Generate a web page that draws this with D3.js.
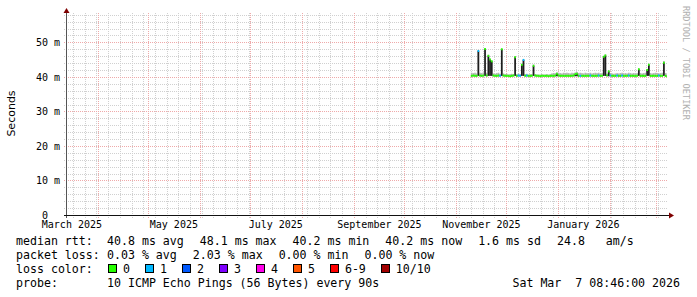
<!DOCTYPE html>
<html>
<head>
<meta charset="utf-8">
<script src="https://cdnjs.cloudflare.com/ajax/libs/d3/7.8.5/d3.min.js"></script>
<style>
    html, body { margin: 0; padding: 0; background: #fff; }
    svg { display: block; }
    .mono { font-family: 'DejaVu Sans Mono', monospace; }
    .mono text { white-space: pre; }
</style>
</head>
<body>
<div class="js-graph"></div>
<script>
'use strict';

//time span of the graph (last 359 days)
var graphEnd = new Date(2026, 2, 7, 8, 46, 0);
var graphStart = d3.timeDay.offset(graphEnd, -359);

//one sample per day, starting at the first day with data
var firstSample = new Date(2025, 10, 10);

//median rtt in ms
var rttMedian = [
    40.3, 40.4, 40.3, 40.3, 47.5, 40.4, 40.3, 40.4, 48.1, 40.4,
    46.1, 45.0, 44.5, 40.4, 40.3, 40.3, 40.4, 40.3, 48.0, 40.4,
    40.3, 40.3, 40.3, 40.2, 40.3, 40.4, 45.7, 40.3, 40.4, 40.3,
    43.5, 44.9, 40.3, 40.4, 40.3, 40.3, 40.3, 43.2, 40.4, 40.3,
    40.3, 40.2, 40.3, 40.3, 40.3, 40.3, 40.2, 40.3, 40.3, 40.3,
    40.4, 40.9, 40.4, 40.3, 40.3, 40.3, 40.3, 40.3, 40.3, 40.3,
    40.3, 40.4, 40.8, 40.9, 40.3, 40.3, 40.3, 40.3, 40.3, 40.3,
    40.3, 40.4, 40.3, 40.3, 40.3, 40.3, 40.4, 40.3, 40.3, 45.8,
    46.2, 40.5, 41.6, 40.4, 40.3, 40.3, 40.3, 40.4, 40.3, 40.3,
    40.4, 40.3, 40.3, 40.3, 40.4, 40.3, 40.3, 40.3, 40.3, 40.3,
    42.2, 40.3, 40.3, 40.3, 40.3, 42.0, 43.5, 40.3, 40.3, 40.3,
    40.3, 40.3, 40.4, 40.3, 40.3, 44.1, 40.3, 40.2
];

//lowest ping of each sample in ms
var rttMin = [
    40.2, 40.2, 40.2, 40.2, 40.3, 40.2, 40.2, 40.2, 40.3, 40.2,
    40.3, 40.3, 40.3, 40.2, 40.2, 40.2, 40.2, 40.2, 40.3, 40.2,
    40.2, 40.2, 40.2, 40.1, 40.2, 40.2, 40.3, 40.2, 40.2, 40.2,
    40.3, 40.3, 40.2, 40.2, 40.2, 40.2, 40.2, 40.3, 40.2, 40.2,
    40.2, 40.1, 40.2, 40.2, 40.2, 40.2, 40.1, 40.2, 40.2, 40.2,
    40.2, 40.2, 40.2, 40.2, 40.2, 40.2, 40.2, 40.2, 40.2, 40.2,
    40.2, 40.2, 40.2, 40.2, 40.2, 40.2, 40.2, 40.2, 40.2, 40.2,
    40.2, 40.2, 40.2, 40.2, 40.2, 40.2, 40.2, 40.2, 40.2, 40.3,
    40.3, 40.2, 40.2, 40.2, 40.2, 40.2, 40.2, 40.2, 40.2, 40.2,
    40.2, 40.2, 40.2, 40.2, 40.2, 40.2, 40.2, 40.2, 40.2, 40.2,
    40.3, 40.2, 40.2, 40.2, 40.2, 40.3, 40.3, 40.2, 40.2, 40.2,
    40.2, 40.2, 40.2, 40.2, 40.2, 40.3, 40.2, 40.1
];

//highest ping of each sample in ms
var rttMax = [
    41.2, 41.1, 41.2, 41.0, 47.8, 41.2, 41.1, 41.3, 48.3, 41.2,
    46.4, 45.3, 44.8, 41.0, 40.9, 41.1, 41.2, 40.9, 48.2, 41.0,
    40.8, 40.9, 40.7, 40.8, 40.9, 40.8, 46.0, 40.8, 41.0, 40.8,
    43.8, 45.2, 40.8, 40.9, 40.7, 40.8, 40.8, 43.6, 40.8, 40.7,
    40.7, 40.7, 40.8, 40.7, 40.7, 40.8, 40.7, 40.8, 41.0, 41.1,
    41.1, 41.3, 41.2, 41.1, 41.0, 41.2, 41.1, 41.2, 41.1, 41.0,
    41.2, 41.1, 41.3, 41.4, 41.1, 41.2, 41.1, 41.0, 41.2, 41.1,
    41.1, 41.2, 41.0, 41.1, 41.2, 41.1, 41.2, 41.0, 41.1, 46.1,
    46.5, 41.0, 41.9, 41.1, 41.0, 40.9, 41.0, 41.1, 41.0, 41.1,
    41.2, 41.0, 41.1, 41.0, 41.2, 41.1, 41.0, 41.1, 41.0, 41.1,
    42.5, 41.1, 41.0, 41.1, 41.2, 42.3, 43.8, 41.1, 41.0, 41.1,
    41.2, 41.1, 41.0, 41.1, 41.2, 44.6, 41.1, 41.0
];

//lost pings out of 10
var lossCount = [
    0, 0, 0, 0, 1, 0, 0, 0, 0, 0,
    0, 0, 0, 0, 0, 0, 0, 1, 0, 0,
    0, 0, 0, 0, 0, 0, 0, 0, 1, 1,
    0, 1, 0, 1, 0, 0, 0, 0, 0, 0,
    0, 0, 0, 0, 0, 0, 0, 0, 0, 0,
    0, 0, 0, 0, 0, 0, 0, 0, 0, 0,
    0, 0, 0, 0, 0, 1, 0, 0, 0, 0,
    0, 1, 0, 0, 0, 0, 1, 0, 0, 0,
    0, 0, 0, 1, 0, 0, 0, 1, 0, 0,
    1, 0, 0, 0, 1, 0, 0, 0, 0, 0,
    0, 0, 0, 0, 0, 0, 0, 0, 0, 0,
    0, 0, 1, 0, 0, 0, 0, 0
];

var yMax = 58.5;
var yTicks = [0, 10, 20, 30, 40, 50];

var lossLabels = ['0', '1', '2', '3', '4', '5', '6-9', '10/10'];
var lossColors = ['#26ff00', '#00b8ff', '#0059ff', '#7e00ff', '#ff00ea', '#ff5500', '#ff0000', '#a10000'];

var rttLegend = ['40.8 ms avg', '48.1 ms max', '40.2 ms min', '40.2 ms now', '1.6 ms sd', '24.8   am/s'];
var lossLegend = ['0.03 % avg', '2.03 % max', '0.00 % min', '0.00 % now'];
var probeText = '10 ICMP Echo Pings (56 Bytes) every 90s';
var stampText = 'Sat Mar  7 08:46:00 2026';

var dim = { w: 697, h: 297 };
var plot = { left: 67, right: 667, top: 13, bottom: 215 };

var svg = d3.select('.js-graph')
    .append('svg')
    .attr('width', dim.w)
    .attr('height', dim.h);

var x = d3.scaleTime().domain([graphStart, graphEnd]).range([plot.left, plot.right]);
var y = d3.scaleLinear().domain([0, yMax]).range([plot.bottom, plot.top]);

function px(v) {
    return Math.round(v) + 0.5;
}

function lossColor(n) {
    if (n <= 5) {
        return lossColors[n];
    }
    return n < 10 ? lossColors[6] : lossColors[7];
}

//dotted grid, minor first then major on top
function drawGrid() {
    var g = svg.append('g').attr('shape-rendering', 'crispEdges').attr('stroke-dasharray', '1,1');

    var minorY = d3.range(2, yMax, 2).filter(function (v) { return v % 10 !== 0; });
    g.selectAll('.js-hmin').data(minorY).enter().append('line')
        .attr('class', 'js-hmin')
        .attr('x1', plot.left - 3).attr('x2', plot.right + 1)
        .attr('y1', function (d) { return px(y(d)); })
        .attr('y2', function (d) { return px(y(d)); })
        .attr('stroke', '#d0d0d0');

    var mondays = d3.timeMonday.range(graphStart, graphEnd);
    g.selectAll('.js-vmin').data(mondays).enter().append('line')
        .attr('class', 'js-vmin')
        .attr('x1', function (d) { return px(x(d)); })
        .attr('x2', function (d) { return px(x(d)); })
        .attr('y1', plot.top).attr('y2', plot.bottom + 3)
        .attr('stroke', '#d0d0d0');

    g.selectAll('.js-hmaj').data(yTicks.slice(1)).enter().append('line')
        .attr('class', 'js-hmaj')
        .attr('x1', plot.left - 3).attr('x2', plot.right + 1)
        .attr('y1', function (d) { return px(y(d)); })
        .attr('y2', function (d) { return px(y(d)); })
        .attr('stroke', '#efaaaa');

    var months = d3.timeMonth.range(graphStart, graphEnd);
    g.selectAll('.js-vmaj').data(months).enter().append('line')
        .attr('class', 'js-vmaj')
        .attr('x1', function (d) { return px(x(d)); })
        .attr('x2', function (d) { return px(x(d)); })
        .attr('y1', plot.top).attr('y2', plot.bottom + 3)
        .attr('stroke', '#efaaaa');
}

//smoke and median line, one column per sample
function drawSamples() {
    var samples = rttMedian.map(function (m, i) {
        var t1 = d3.timeDay.offset(firstSample, i + 1);
        return {
            t0: d3.timeDay.offset(firstSample, i),
            t1: t1 > graphEnd ? graphEnd : t1,
            median: m,
            min: rttMin[i],
            max: rttMax[i],
            loss: lossCount[i]
        };
    });

    var g = svg.append('g');

    g.selectAll('.js-smoke').data(samples).enter().append('rect')
        .attr('class', 'js-smoke')
        .attr('x', function (d) { return x(d.t0); })
        .attr('width', function (d) { return x(d.t1) - x(d.t0); })
        .attr('y', function (d) { return y(d.max); })
        .attr('height', function (d) { return y(d.min) - y(d.max); })
        .attr('fill', '#b4b4b4');

    g.selectAll('.js-core').data(samples).enter().append('rect')
        .attr('class', 'js-core')
        .attr('x', function (d) { return x(d.t0); })
        .attr('width', function (d) { return x(d.t1) - x(d.t0); })
        .attr('y', function (d) { return y(d.median); })
        .attr('height', function (d) { return y(d.min) - y(d.median); })
        .attr('fill', '#1e1e1e');

    g.selectAll('.js-median').data(samples).enter().append('line')
        .attr('class', 'js-median')
        .attr('x1', function (d) { return x(d.t0); })
        .attr('x2', function (d) { return x(d.t1); })
        .attr('y1', function (d) { return y(d.median); })
        .attr('y2', function (d) { return y(d.median); })
        .attr('stroke', function (d) { return lossColor(d.loss); })
        .attr('stroke-width', 2);
}

//axis lines, arrows and tick labels
function drawAxes() {
    var g = svg.append('g').attr('shape-rendering', 'crispEdges');
    g.append('line')
        .attr('x1', plot.left - 0.5).attr('x2', plot.left - 0.5)
        .attr('y1', plot.bottom + 3).attr('y2', plot.top - 2)
        .attr('stroke', '#555');
    g.append('line')
        .attr('x1', plot.left - 3).attr('x2', plot.right + 2)
        .attr('y1', plot.bottom + 0.5).attr('y2', plot.bottom + 0.5)
        .attr('stroke', '#111');

    svg.append('path')
        .attr('d', 'M' + (plot.left - 3.5) + ',' + (plot.top) + 'L' + (plot.left - 0.5) + ',' + (plot.top - 5) +
            'L' + (plot.left + 2.5) + ',' + (plot.top) + 'Z')
        .attr('fill', '#7f0000');
    svg.append('path')
        .attr('d', 'M' + (plot.right + 2) + ',' + (plot.bottom - 2.5) + 'L' + (plot.right + 7) + ',' + (plot.bottom + 0.5) +
            'L' + (plot.right + 2) + ',' + (plot.bottom + 3.5) + 'Z')
        .attr('fill', '#7f0000');

    var yAxis = svg.append('g')
        .attr('transform', 'translate(' + plot.left + ',0)')
        .call(d3.axisLeft(y)
            .tickValues(yTicks)
            .tickSize(0)
            .tickPadding(7)
            .tickFormat(function (d) { return d === 0 ? '0\u00a0\u00a0' : d + '\u00a0m'; }));
    yAxis.select('.domain').remove();
    yAxis.attr('font-family', "'DejaVu Sans Mono', monospace").attr('font-size', 10);
    yAxis.selectAll('text').attr('fill', '#000');

    //month labels sit in the middle of the month, only those inside the graph
    var labelMonths = d3.timeMonth.every(2).range(d3.timeMonth.floor(graphStart), graphEnd)
        .map(function (d) { return d3.timeDay.offset(d, 15); })
        .filter(function (d) { return d < graphEnd; });
    var xAxis = svg.append('g')
        .attr('transform', 'translate(0,' + plot.bottom + ')')
        .call(d3.axisBottom(x)
            .tickValues(labelMonths)
            .tickSize(0)
            .tickPadding(5.5)
            .tickFormat(d3.timeFormat('%B %Y')));
    xAxis.select('.domain').remove();
    xAxis.attr('font-family', "'DejaVu Sans Mono', monospace").attr('font-size', 10);
    xAxis.selectAll('text').attr('fill', '#000');

    svg.append('text')
        .attr('transform', 'translate(15,113.5) rotate(-90)')
        .attr('text-anchor', 'middle')
        .attr('font-family', "'DejaVu Sans', sans-serif")
        .attr('font-size', 11)
        .attr('fill', '#000')
        .text('Seconds');

    svg.append('text')
        .attr('transform', 'translate(683,6) rotate(90)')
        .attr('font-family', "'DejaVu Sans Mono', monospace")
        .attr('font-size', 8.6)
        .attr('fill', '#b0b0b0')
        .text('RRDTOOL / TOBI OETIKER');
}

//legend rows under the graph, spaces kept as typed
function legendText(row, xPos, yPos, str) {
    return row.append('text')
        .attr('xml:space', 'preserve')
        .attr('x', xPos)
        .attr('y', yPos)
        .text(str);
}

function legendRow(yPos, label, items) {
    var row = svg.append('g').attr('class', 'mono').attr('font-size', 11.6).attr('fill', '#000');
    legendText(row, 16, yPos, label);
    var xPos = 107;
    items.forEach(function (item) {
        var t = legendText(row, xPos, yPos, item);
        xPos += t.node().getComputedTextLength() + 16;
    });
    return row;
}

function drawLegend() {
    legendRow(245, 'median rtt:', rttLegend);
    legendRow(259, 'packet loss:', lossLegend);

    var row = legendRow(273, 'loss color:', []);
    var xPos = 108;
    lossLabels.forEach(function (label, i) {
        row.append('rect')
            .attr('x', xPos + 0.5).attr('y', 264.5)
            .attr('width', 8).attr('height', 8)
            .attr('fill', lossColors[i])
            .attr('stroke', '#000')
            .attr('shape-rendering', 'crispEdges');
        var t = legendText(row, xPos + 15, 273, label);
        xPos += 15 + t.node().getComputedTextLength() + 15;
    });

    var probe = legendRow(287, 'probe:', [probeText]);
    legendText(probe, 680, 287, stampText).attr('text-anchor', 'end');
}

drawGrid();
drawSamples();
drawAxes();
drawLegend();
</script>
</body>
</html>
